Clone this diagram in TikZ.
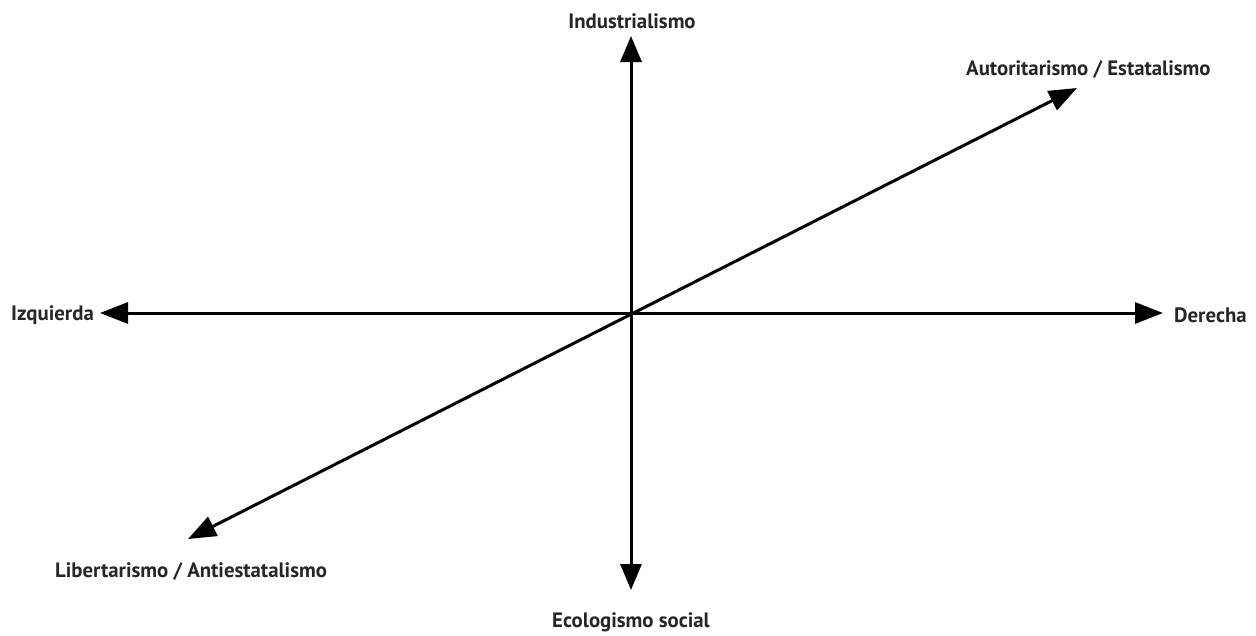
\documentclass[tikz,border=0pt]{standalone}
\usepackage{fontspec}
\setmainfont{PT Sans}
\usetikzlibrary{arrows.meta}

\begin{document}
\begin{tikzpicture}[x=1pt, y=-1pt, font=\fontsize{20.8}{24}\selectfont\bfseries]
            \useasboundingbox (0,0) rectangle (1256,635);
            % axis ends
            \coordinate (O) at (631,313);
            \coordinate (N) at (631,36);
            \coordinate (S) at (631,590);
            \coordinate (W) at (100,313);
            \coordinate (E) at (1163,313);
            \coordinate (NE) at (1077,88);
            \coordinate (SW) at (188,539);
            % labels
            \node[inner sep=0pt, text=black!85] (ind) at (632,21) {Industrialismo};
            \node[inner sep=0pt, text=black!85] (eco) at (631,622) {Ecologismo social};
            \node[inner sep=0pt, text=black!85, anchor=east] (izq) at (94,315) {Izquierda};
            \node[inner sep=0pt, text=black!85, anchor=west] (der) at (1174,315) {Derecha};
            \node[inner sep=0pt, text=black!85, anchor=west] (aut) at (966,70) {Autoritarismo / Estatalismo};
            \node[inner sep=0pt, text=black!85, anchor=west] (lib) at (55,572) {Libertarismo / Antiestatalismo};
            % axes
            \draw[{Triangle[length=26pt, width=21pt]}-{Triangle[length=26pt, width=21pt]}, line width=3pt] (S) -- (N);
            \draw[{Triangle[length=28pt, width=21pt]}-{Triangle[length=28pt, width=21pt]}, line width=3pt] (W) -- (E);
            \draw[{Triangle[length=28pt, width=21pt]}-{Triangle[length=28pt, width=21pt]}, line width=3pt] (SW) -- (NE);
        \end{tikzpicture}
\end{document}
